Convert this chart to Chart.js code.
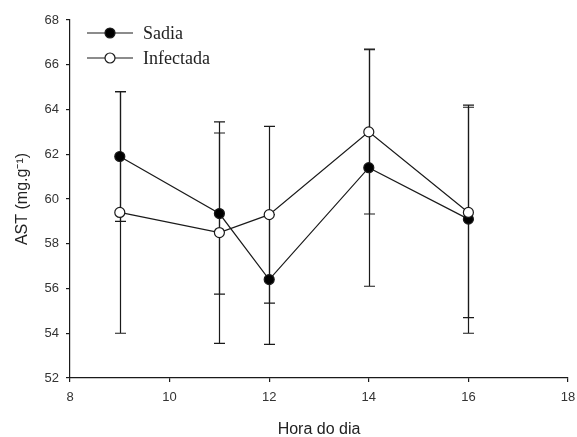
<!DOCTYPE html>
<html>
<head>
<meta charset="utf-8">
<script src="https://cdn.jsdelivr.net/npm/chart.js@4/dist/chart.umd.min.js"></script>
<style>
  html, body { margin: 0; padding: 0; background: #fff; }
  #wrap { width: 577px; height: 437px; }
</style>
</head>
<body>
<div id="wrap"><canvas id="c" width="577" height="437"></canvas></div>
<script>
// Hour of day (x) and AST means with their errors for each group
const hours = [9, 11, 12, 14, 16];
const sadia = [61.9, 59.35, 56.4, 61.4, 59.1];
const sadiaErr = [2.9, 3.6, 2.9, 5.3, 5.1];
const infectada = [59.4, 58.5, 59.3, 63.0, 59.4];
const infectadaErr = [5.4, 4.95, 3.95, 3.67, 4.7];

const xTicks = [8, 10, 12, 14, 16, 18];
const yTicks = [52, 54, 56, 58, 60, 62, 64, 66, 68];

const INK = '#1a1a1a';
const SANS = '"Liberation Sans", Arial, sans-serif';

// Vertical error bars with caps, drawn beneath the lines and markers
const errorBars = {
  id: 'errorBars',
  beforeDatasetsDraw(chart) {
    const { ctx, scales: { x, y } } = chart;
    ctx.save();
    ctx.strokeStyle = INK;
    ctx.lineWidth = 1.2;
    chart.data.datasets.forEach(ds => {
      ds.data.forEach((p, i) => {
        const e = ds.errors[i];
        const px = Math.round(x.getPixelForValue(p.x)) + 0.5;
        const top = y.getPixelForValue(p.y + e);
        const bot = y.getPixelForValue(p.y - e);
        ctx.beginPath();
        ctx.moveTo(px, top); ctx.lineTo(px, bot);
        ctx.moveTo(px - 5.5, top); ctx.lineTo(px + 5.5, top);
        ctx.moveTo(px - 5.5, bot); ctx.lineTo(px + 5.5, bot);
        ctx.stroke();
      });
    });
    ctx.restore();
  }
};

// Legend with a short line through the marker, serif labels
const lineLegend = {
  id: 'lineLegend',
  afterDraw(chart) {
    const { ctx } = chart;
    ctx.save();
    chart.data.datasets.forEach((ds, row) => {
      const cy = 33 + row * 25;
      ctx.strokeStyle = INK;
      ctx.lineWidth = 1.2;
      ctx.beginPath();
      ctx.moveTo(87, cy); ctx.lineTo(133, cy);
      ctx.stroke();
      ctx.beginPath();
      ctx.arc(110, cy, 5, 0, Math.PI * 2);
      ctx.fillStyle = ds.pointBackgroundColor;
      ctx.fill();
      ctx.stroke();
      ctx.fillStyle = '#222';
      ctx.font = '18px "Liberation Serif", "Times New Roman", serif';
      ctx.textBaseline = 'middle';
      ctx.textAlign = 'left';
      ctx.fillText(ds.label, 143, cy + 1);
    });
    ctx.restore();
  }
};

const toPoints = (vals) => vals.map((v, i) => ({ x: hours[i], y: v }));

new Chart(document.getElementById('c'), {
  type: 'line',
  data: {
    datasets: [
      {
        label: 'Sadia',
        data: toPoints(sadia),
        errors: sadiaErr,
        borderColor: INK,
        borderWidth: 1.2,
        pointBackgroundColor: '#000',
        pointBorderColor: INK,
        pointBorderWidth: 1.2,
        pointRadius: 5,
        tension: 0,
        order: 1
      },
      {
        label: 'Infectada',
        data: toPoints(infectada),
        errors: infectadaErr,
        borderColor: INK,
        borderWidth: 1.2,
        pointBackgroundColor: '#fff',
        pointBorderColor: INK,
        pointBorderWidth: 1.2,
        pointRadius: 5,
        tension: 0,
        order: 0
      }
    ]
  },
  options: {
    responsive: false,
    animation: false,
    layout: { padding: { top: 20, right: 9, bottom: 0, left: 0 } },
    plugins: {
      legend: { display: false },
      tooltip: { enabled: false }
    },
    scales: {
      x: {
        type: 'linear',
        min: 8, max: 18,
        afterFit(scale) { scale.height = 59; scale.paddingLeft = 0; scale.paddingRight = 0; },
        afterBuildTicks(scale) { scale.ticks = xTicks.map(v => ({ value: v })); },
        grid: { drawOnChartArea: false, drawTicks: true, tickLength: 4, color: INK, lineWidth: 1.2 },
        border: { display: true, color: INK, width: 1.2 },
        ticks: { color: '#333', font: { family: SANS, size: 13 }, padding: 8, maxRotation: 0 },
        title: {
          display: true,
          text: 'Hora do dia',
          color: '#222',
          font: { family: SANS, size: 16, lineHeight: 1 },
          padding: { top: 0, bottom: -1 }
        }
      },
      y: {
        type: 'linear',
        min: 52, max: 68,
        afterFit(scale) { scale.width = 70; scale.paddingTop = 0; scale.paddingBottom = 0; },
        afterBuildTicks(scale) { scale.ticks = yTicks.map(v => ({ value: v })); },
        grid: { drawOnChartArea: false, drawTicks: true, tickLength: 4, color: INK, lineWidth: 1.2 },
        border: { display: true, color: INK, width: 1.2 },
        ticks: { color: '#333', font: { family: SANS, size: 13 }, padding: 7 },
        title: {
          display: true,
          text: 'AST (mg.g⁻¹)',
          color: '#222',
          font: { family: SANS, size: 16, lineHeight: 1 },
          padding: { top: 15, bottom: 0 }
        }
      }
    }
  },
  plugins: [errorBars, lineLegend]
});
</script>
</body>
</html>
